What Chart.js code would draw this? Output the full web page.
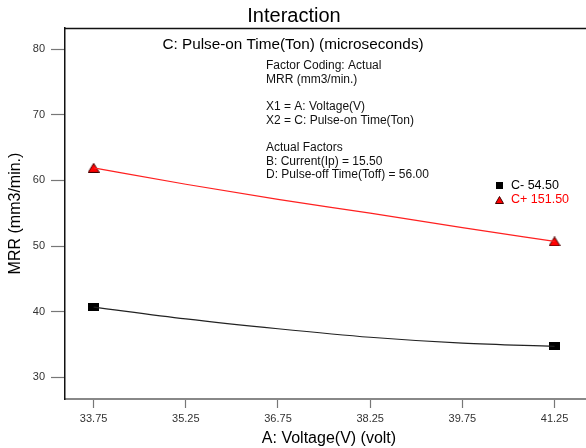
<!DOCTYPE html>
<html>
<head>
<meta charset="utf-8">
<script src="https://cdn.jsdelivr.net/npm/chart.js@4.4.1/dist/chart.umd.min.js"></script>
<style>
html,body{margin:0;padding:0;background:#fff;overflow:hidden;}
#wrap{width:600px;height:448px;position:relative;}
</style>
</head>
<body>
<div id="wrap"><canvas id="c" width="600" height="448"></canvas></div>
<script>
// ---- data ----
const xValues = [33.75, 35.25, 36.75, 38.25, 39.75, 41.25];
const cMinus = [40.7, 38.9, 37.4, 36.1, 35.2, 34.7];
const cPlus = [61.9, 59.4, 57.1, 55.0, 52.8, 50.7];
const xTicks = [33.75, 35.25, 36.75, 38.25, 39.75, 41.25];
const yTicks = [30, 40, 50, 60, 70, 80];
const seriesNames = ['C- 54.50', 'C+ 151.50'];
const chartTitle = 'Interaction';
const subTitle = 'C: Pulse-on Time(Ton) (microseconds)';
const infoLines = ['Factor Coding: Actual', 'MRR (mm3/min.)', '', 'X1 = A: Voltage(V)', 'X2 = C: Pulse-on Time(Ton)', '', 'Actual Factors', 'B: Current(Ip) = 15.50', 'D: Pulse-off Time(Toff) = 56.00'];
const xTitle = 'A: Voltage(V) (volt)';
const yTitle = 'MRR (mm3/min.)';

const FONT = '"Liberation Sans", Arial, sans-serif';

function makeRect(w, h, fill) {
  const cv = document.createElement('canvas');
  cv.width = w; cv.height = h;
  const g = cv.getContext('2d');
  g.fillStyle = fill; g.fillRect(0, 0, w, h);
  return cv;
}
function makeTri(w, h, fill, stroke) {
  const cv = document.createElement('canvas');
  cv.width = w; cv.height = h;
  const g = cv.getContext('2d');
  g.beginPath();
  g.moveTo(w / 2, 0.5); g.lineTo(w - 0.5, h - 0.5); g.lineTo(0.5, h - 0.5); g.closePath();
  g.fillStyle = fill; g.fill();
  g.strokeStyle = stroke; g.lineWidth = 1; g.stroke();
  return cv;
}
const sqMarker = makeRect(11, 8, '#000');
const triMarker = makeTri(12, 10, '#ff0000', '#400000');
const sqLegend = makeRect(7, 7, '#000');
const triLegend = makeTri(9, 8, '#ff0000', '#400000');

const pts = (arr) => xValues.map((x, i) => ({x: x, y: arr[i]}));
const ends = (arr) => [{x: xValues[0], y: arr[0]}, {x: xValues[xValues.length - 1], y: arr[arr.length - 1]}];

const decor = {
  id: 'decor',
  afterDraw(chart) {
    const ctx = chart.ctx;
    const a = chart.chartArea;
    ctx.save();
    // top border
    ctx.strokeStyle = '#111';
    ctx.lineWidth = 1.5;
    ctx.beginPath();
    ctx.moveTo(a.left, a.top + 0.5);
    ctx.lineTo(a.right, a.top + 0.5);
    ctx.stroke();
    // titles
    ctx.fillStyle = '#000';
    ctx.textAlign = 'center';
    ctx.textBaseline = 'middle';
    ctx.font = '20px ' + FONT;
    ctx.fillText(chartTitle, 294, 16);
    ctx.font = '15.3px ' + FONT;
    ctx.fillText(subTitle, 293, 45);
    // info block
    ctx.textAlign = 'left';
    ctx.font = '12px ' + FONT;
    ctx.fillStyle = '#111';
    infoLines.forEach((t, i) => { if (t) ctx.fillText(t, 266, 66 + i * 13.6); });
    // legend
    ctx.drawImage(sqLegend, 496, 182);
    ctx.drawImage(triLegend, 495, 196);
    ctx.font = '12.5px ' + FONT;
    ctx.fillStyle = '#000';
    ctx.fillText(seriesNames[0], 511, 186);
    ctx.fillStyle = '#ff0000';
    ctx.fillText(seriesNames[1], 511, 200);
    ctx.restore();
  }
};

new Chart(document.getElementById('c'), {
  type: 'scatter',
  data: {
    datasets: [
      {data: pts(cMinus), showLine: true, borderColor: '#222', borderWidth: 1.2, pointRadius: 0, cubicInterpolationMode: 'monotone', fill: false},
      {data: pts(cPlus), showLine: true, borderColor: '#ff2020', borderWidth: 1.2, pointRadius: 0, cubicInterpolationMode: 'monotone', fill: false},
      {data: ends(cMinus), showLine: false, pointStyle: sqMarker, pointRadius: 6},
      {data: ends(cPlus), showLine: false, pointStyle: triMarker, pointRadius: 6}
    ]
  },
  options: {
    responsive: false,
    animation: false,
    events: [],
    layout: {padding: {top: 28, right: 0, left: 0, bottom: 0}},
    plugins: {legend: {display: false}, tooltip: {enabled: false}, title: {display: false}},
    scales: {
      x: {
        type: 'linear',
        min: 33.284,
        max: 41.876,
        afterBuildTicks: (s) => { s.ticks = xTicks.map(v => ({value: v})); },
        afterFit: (s) => { s.height = 49; },
        grid: {drawOnChartArea: false, drawTicks: true, tickLength: 9, color: '#777', tickWidth: 1.2},
        border: {display: true, color: '#888', width: 2},
        ticks: {color: '#333', font: {size: 11, family: FONT}, padding: 4, maxRotation: 0, autoSkip: false,
          callback: (v) => v.toFixed(2)},
        title: {display: true, text: xTitle, color: '#000', font: {size: 16, family: FONT}, padding: {top: 0, bottom: 0}}
      },
      y: {
        type: 'linear',
        min: 26.7,
        max: 83.2,
        afterBuildTicks: (s) => { s.ticks = yTicks.map(v => ({value: v})); },
        afterFit: (s) => { s.width = 65; },
        grid: {drawOnChartArea: false, drawTicks: true, tickLength: 14, color: '#777', tickWidth: 1.2},
        border: {display: true, color: '#111', width: 1.5},
        ticks: {color: '#333', font: {size: 11, family: FONT}, padding: 6, autoSkip: false},
        title: {display: true, text: yTitle, color: '#000', font: {size: 16, family: FONT}, padding: {top: 6, bottom: 0}}
      }
    }
  },
  plugins: [decor]
});
</script>
</body>
</html>
